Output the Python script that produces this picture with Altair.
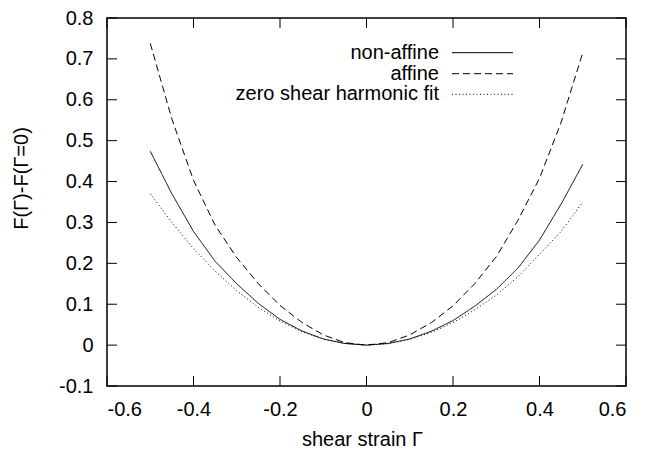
import altair as alt
import pandas as pd

# ---- data ----
strain = [-0.5, -0.45, -0.4, -0.35, -0.3, -0.25, -0.2, -0.15, -0.1, -0.05, 0.0,
          0.05, 0.1, 0.15, 0.2, 0.25, 0.3, 0.35, 0.4, 0.45, 0.5]
non_affine = [0.474, 0.370, 0.278, 0.205, 0.150, 0.102, 0.063, 0.035, 0.015, 0.004, 0.0,
              0.004, 0.015, 0.034, 0.060, 0.095, 0.136, 0.188, 0.257, 0.345, 0.442]
affine = [0.738, 0.553, 0.403, 0.293, 0.214, 0.150, 0.097, 0.056, 0.025, 0.006, 0.0,
          0.006, 0.025, 0.055, 0.096, 0.150, 0.216, 0.305, 0.408, 0.545, 0.715]
harmonic_fit = [0.370, 0.300, 0.236, 0.181, 0.133, 0.092, 0.059, 0.033, 0.015, 0.004, 0.0,
                0.0035, 0.014, 0.031, 0.055, 0.086, 0.122, 0.167, 0.222, 0.278, 0.350]
series_names = ["non-affine", "affine", "zero shear harmonic fit"]
x_ticks = [-0.6, -0.4, -0.2, 0, 0.2, 0.4, 0.6]
y_ticks = [-0.1, 0, 0.1, 0.2, 0.3, 0.4, 0.5, 0.6, 0.7, 0.8]

rows = []
for name, vals in zip(series_names, [non_affine, affine, harmonic_fit]):
    for g, f in zip(strain, vals):
        rows.append({"strain": g, "F": f, "series": name})
df = pd.DataFrame(rows)

TOP = 10
W, H = 519, 378 - TOP
TICK = 10
FONT = "Liberation Sans"
FS = 20
dashes = [[1, 0], [7, 4], [1, 2.5]]

xs = alt.Scale(domain=[-0.6, 0.6], nice=False, zero=False)
ys = alt.Scale(domain=[-0.1, 0.8], nice=False, zero=False)

x_axis = alt.Axis(values=x_ticks, labelExpr="'' + datum.value",
                  title="shear strain Γ", titleX=255, titleY=59,
                  titleBaseline="alphabetic", labelPadding=13)
y_axis = alt.Axis(values=y_ticks, labelExpr="'' + datum.value",
                  title="F(Γ)-F(Γ=0)", titleX=-86, titleY=178 - 8 - TOP,
                  titleAngle=-90, titleAlign="center", titleBaseline="middle",
                  labelPadding=14)

lines = alt.Chart(df).mark_line(color="black", strokeWidth=1).encode(
    x=alt.X("strain:Q", scale=xs, axis=x_axis),
    y=alt.Y("F:Q", scale=ys, axis=y_axis),
    strokeDash=alt.StrokeDash("series:N",
                              scale=alt.Scale(domain=series_names, range=dashes),
                              legend=None),
)

xt = pd.DataFrame({"strain": x_ticks})
yt = pd.DataFrame({"F": y_ticks})

tick_b = alt.Chart(xt).mark_rule(color="black", strokeWidth=1).encode(
    x=alt.X("strain:Q", scale=xs, axis=x_axis), y=alt.value(H), y2=alt.value(H - TICK))
tick_t = alt.Chart(xt).mark_rule(color="black", strokeWidth=1).encode(
    x=alt.X("strain:Q", scale=xs, axis=x_axis), y=alt.value(0), y2=alt.value(TICK))
tick_l = alt.Chart(yt).mark_rule(color="black", strokeWidth=1).encode(
    y=alt.Y("F:Q", scale=ys, axis=y_axis), x=alt.value(0), x2=alt.value(TICK))
tick_r = alt.Chart(yt).mark_rule(color="black", strokeWidth=1).encode(
    y=alt.Y("F:Q", scale=ys, axis=y_axis), x=alt.value(W), x2=alt.value(W - TICK))

frame = alt.Chart(pd.DataFrame({"a": [0]})).mark_rect(
    fill=None, stroke="black", strokeWidth=1.5).encode(
    x=alt.value(0), x2=alt.value(W), y=alt.value(0), y2=alt.value(H))

# custom gnuplot-style key (text left of line sample)
key_layers = []
row_y = [52.7, 73.7, 94.3]
for name, d, ry in zip(series_names, dashes, row_y):
    kd = pd.DataFrame({"label": [name]})
    key_layers.append(
        alt.Chart(kd).mark_text(align="right", baseline="middle", font=FONT,
                                fontSize=FS, color="black").encode(
            text="label:N", x=alt.value(332), y=alt.value(ry - 8 - TOP)))
    key_layers.append(
        alt.Chart(kd).mark_rule(color="black", strokeWidth=1, strokeDash=d).encode(
            x=alt.value(345), x2=alt.value(406), y=alt.value(ry - 8 - TOP)))

chart = alt.layer(lines, tick_b, tick_t, tick_l, tick_r, frame, *key_layers).properties(
    width=W, height=H,
    background="white",
    autosize=alt.AutoSizeParams(type="none"),
    padding={"left": 99, "top": TOP, "right": 8, "bottom": 68},
).configure_view(
    stroke=None
).configure_axis(
    labelFont=FONT, labelFontSize=FS, labelColor="black",
    titleFont=FONT, titleFontSize=FS, titleColor="black", titleFontWeight="normal",
    domain=False, ticks=False, grid=False,
)

chart.save("out.html", embed_options={"renderer": "svg", "actions": False})
